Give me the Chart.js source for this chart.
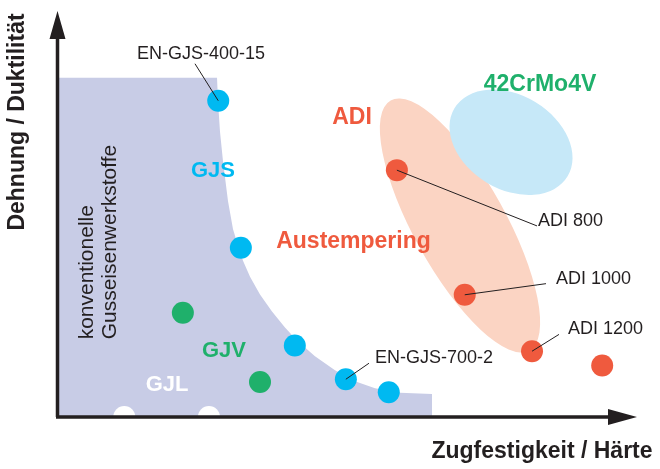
<!DOCTYPE html>
<html>
<head>
<meta charset="utf-8">
<script src="https://cdn.jsdelivr.net/npm/chart.js@4.4.1/dist/chart.umd.min.js"></script>
<style>
  html, body { margin: 0; padding: 0; background: #fff; }
  canvas { display: block; }
</style>
</head>
<body>
<canvas id="chart" width="660" height="469"></canvas>
<script>
// schematisches Diagramm, beide Achsen ohne Einheit (0..100)
const gjsX = [27.8, 31.7, 41.0, 49.8, 57.2];
const gjsY = [77.9, 41.7, 17.6, 9.3, 6.1];
const gjvX = [21.7, 35.0];
const gjvY = [25.7, 8.6];
const gjlX = [11.6, 26.2];
const gjlY = [0, 0];
const adiX = [58.6, 70.3, 81.9, 94.0];
const adiY = [60.8, 30.1, 16.2, 12.7];

// Grenze "konventionelle Gusseisenwerkstoffe"
const areaX = [0, 27.59, 27.76, 28.10, 28.62, 29.48, 30.34, 31.21, 32.07, 33.28, 35.00, 37.07, 39.31, 41.38, 44.48, 47.93, 51.38, 54.83, 59.14, 64.66, 64.66];
const areaY = [83.58, 83.58, 77.70, 70.34, 62.99, 53.19, 46.32, 42.16, 38.48, 34.56, 30.15, 25.98, 22.06, 18.87, 14.95, 11.52, 8.82, 7.11, 6.00, 5.64, 0];

// Beschriftungen mit Hinweislinie
const callouts = ['EN-GJS-400-15', 'ADI 800', 'ADI 1000', 'ADI 1200', 'EN-GJS-700-2'];
const calloutFromX = [23.79, 82.76, 84.31, 86.55, 53.79];
const calloutFromY = [87.01, 47.06, 32.84, 20.34, 13.24];
const calloutToX = [27.8, 58.6, 70.3, 81.9, 49.8];
const calloutToY = [77.9, 60.8, 30.1, 16.2, 9.3];

const DARK = '#231f20';
const BLUE = '#00b9f1';
const GREEN = '#1fb06b';
const RED = '#ef5a3e';
const FONT = '"Liberation Sans", Arial, Helvetica, sans-serif';

const pts = (xs, ys) => xs.map((x, i) => ({ x, y: ys[i] }));

const ellipses = [
    { x: 69.48, y: 47.18, rx: 143, ry: 46, angle: 61, color: '#fbd4c3' },
    { x: 78.28, y: 67.65, rx: 66, ry: 47, angle: 31, color: '#c6e8f8' }
];

const texts = [
    { text: 'EN-GJS-400-15', x: 24.83, y: 88.24, color: DARK, weight: '', size: 18, align: 'center' },
    { text: 'GJS', x: 26.90, y: 59.07, color: BLUE, weight: 'bold ', size: 22, align: 'center' },
    { text: 'ADI', x: 50.86, y: 72.06, color: RED, weight: 'bold ', size: 23, align: 'center' },
    { text: '42CrMo4V', x: 83.28, y: 80.39, color: GREEN, weight: 'bold ', size: 23, align: 'center' },
    { text: 'Austempering', x: 51.12, y: 41.67, color: RED, weight: 'bold ', size: 23, align: 'center' },
    { text: 'GJV', x: 28.79, y: 14.71, color: GREEN, weight: 'bold ', size: 22, align: 'center' },
    { text: 'GJL', x: 18.97, y: 6.37, color: '#ffffff', weight: 'bold ', size: 22, align: 'center' },
    { text: 'ADI 800', x: 82.93, y: 47.06, color: DARK, weight: '', size: 18, align: 'left' },
    { text: 'ADI 1000', x: 86.03, y: 32.84, color: DARK, weight: '', size: 18, align: 'left' },
    { text: 'ADI 1200', x: 88.10, y: 20.34, color: DARK, weight: '', size: 18, align: 'left' },
    { text: 'EN-GJS-700-2', x: 54.83, y: 13.24, color: DARK, weight: '', size: 18, align: 'left' },
    { text: 'konventionelle', x: 6.21, y: 19.12, color: DARK, weight: '', size: 21, align: 'left', rotate: true },
    { text: 'Gusseisenwerkstoffe', x: 10.17, y: 19.12, color: DARK, weight: '', size: 21, align: 'left', rotate: true }
];

const ellipsePlugin = {
    id: 'ellipses',
    beforeDatasetsDraw(chart) {
        const { ctx, scales } = chart;
        ctx.save();
        ellipses.forEach(e => {
            ctx.beginPath();
            ctx.ellipse(scales.x.getPixelForValue(e.x), scales.y.getPixelForValue(e.y),
                e.rx, e.ry, e.angle * Math.PI / 180, 0, Math.PI * 2);
            ctx.fillStyle = e.color;
            ctx.fill();
        });
        ctx.restore();
    }
};

const axesPlugin = {
    id: 'axes',
    afterDatasetsDraw(chart) {
        const { ctx, chartArea, scales } = chart;
        const { left, right, top, bottom } = chartArea;
        ctx.save();
        ctx.strokeStyle = DARK;
        ctx.fillStyle = DARK;
        ctx.lineWidth = 3.5;
        ctx.beginPath();
        ctx.moveTo(left + 0.5, bottom);
        ctx.lineTo(left + 0.5, top + 20);
        ctx.moveTo(left - 1, bottom);
        ctx.lineTo(right - 20, bottom);
        ctx.stroke();
        // Pfeilspitzen
        ctx.beginPath();
        ctx.moveTo(left + 0.5, top);
        ctx.lineTo(left - 7.5, top + 28);
        ctx.lineTo(left + 8.5, top + 28);
        ctx.closePath();
        ctx.fill();
        ctx.beginPath();
        ctx.moveTo(right, bottom);
        ctx.lineTo(right - 29, bottom - 8);
        ctx.lineTo(right - 29, bottom + 8);
        ctx.closePath();
        ctx.fill();

        // Achsentitel
        ctx.font = 'bold 23px ' + FONT;
        ctx.textBaseline = 'alphabetic';
        ctx.textAlign = 'center';
        ctx.fillText('Zugfestigkeit / Härte', 542, 458);
        ctx.save();
        ctx.translate(24, 122);
        ctx.rotate(-Math.PI / 2);
        ctx.fillText('Dehnung / Duktilität', 0, 0);
        ctx.restore();

        // Beschriftungen
        texts.forEach(t => {
            ctx.font = t.weight + t.size + 'px ' + FONT;
            ctx.fillStyle = t.color;
            ctx.textAlign = t.align;
            const px = scales.x.getPixelForValue(t.x);
            const py = scales.y.getPixelForValue(t.y);
            if (t.rotate) {
                ctx.save();
                ctx.translate(px, py);
                ctx.rotate(-Math.PI / 2);
                ctx.fillText(t.text, 0, 0);
                ctx.restore();
            } else {
                ctx.fillText(t.text, px, py);
            }
        });
        ctx.restore();
    }
};

const dotSet = (xs, ys, color) => ({
    type: 'scatter',
    data: pts(xs, ys),
    pointRadius: 11,
    pointBorderWidth: 0,
    backgroundColor: color,
    borderColor: color,
    order: 5
});

const datasets = [
    {
        type: 'line',
        data: pts(areaX, areaY),
        fill: 'origin',
        backgroundColor: '#c8cce6',
        borderWidth: 0,
        pointRadius: 0,
        tension: 0,
        order: 10
    },
    dotSet(gjsX, gjsY, BLUE),
    dotSet(gjvX, gjvY, GREEN),
    dotSet(gjlX, gjlY, '#ffffff'),
    dotSet(adiX, adiY, RED)
];

callouts.forEach((name, i) => {
    datasets.push({
        type: 'line',
        label: name,
        data: [
            { x: calloutFromX[i], y: calloutFromY[i] },
            { x: calloutToX[i], y: calloutToY[i] }
        ],
        borderColor: DARK,
        borderWidth: 1,
        pointRadius: 0,
        fill: false,
        order: 1
    });
});

new Chart(document.getElementById('chart').getContext('2d'), {
    type: 'scatter',
    data: { datasets },
    options: {
        responsive: false,
        animation: false,
        devicePixelRatio: 1,
        events: [],
        layout: { padding: { left: 57, right: 23, top: 9, bottom: 52 } },
        scales: {
            x: { type: 'linear', min: 0, max: 100, display: false },
            y: { type: 'linear', min: 0, max: 100, display: false }
        },
        plugins: {
            legend: { display: false },
            tooltip: { enabled: false }
        }
    },
    plugins: [ellipsePlugin, axesPlugin]
});
</script>
</body>
</html>
